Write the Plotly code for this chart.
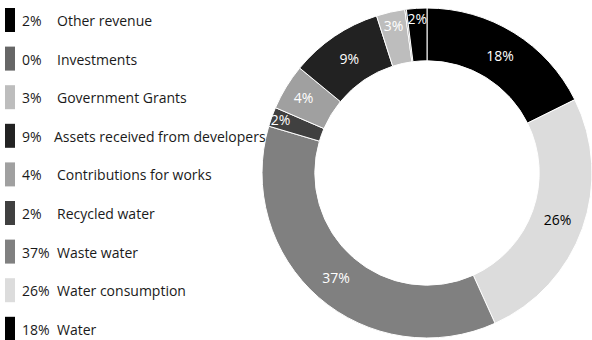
import plotly.graph_objects as go

# Slice order clockwise from 12 o'clock
categories = ["Water", "Water consumption", "Waste water", "Recycled water",
              "Contributions for works", "Assets received from developers",
              "Government Grants", "Investments", "Other revenue"]
values = [17.7, 25.6, 36.4, 1.9, 4.5, 9.1, 2.8, 0.15, 2.0]
pct_labels = ["18%", "26%", "37%", "2%", "4%", "9%", "3%", "0%", "2%"]
colors = ["#000000", "#dcdcdc", "#808080", "#404040", "#a0a0a0",
          "#222222", "#bdbdbd", "#666666", "#000000"]
text_colors = ["white", "black", "white", "white", "white", "white", "white", "white", "white"]

W, H = 592, 340
FONT = "Open Sans"

slice_text = [t if c != "Investments" else "" for t, c in zip(pct_labels, categories)]

fig = go.Figure()
fig.add_trace(go.Pie(
    labels=categories, values=values, text=slice_text, textinfo="text",
    marker=dict(colors=colors, line=dict(color="white", width=1)),
    hole=0.68, sort=False, direction="clockwise", rotation=0,
    textposition="inside", insidetextorientation="horizontal",
    textfont=dict(family=FONT, size=14, color=text_colors),
    domain=dict(x=[262 / W, 1.0], y=[2 / H, 332 / H]),
    showlegend=False, hoverinfo="label+text",
))

# Custom legend (reverse order, top to bottom)
shapes, annotations = [], []
row0, step = 20, 38.6
for i, idx in enumerate(reversed(range(len(categories)))):
    yc = row0 + i * step
    shapes.append(dict(type="rect", xref="paper", yref="paper",
                       x0=5 / W, x1=15 / W, y0=1 - (yc + 12) / H, y1=1 - (yc - 12) / H,
                       fillcolor=colors[idx], line=dict(width=0)))
    annotations.append(dict(x=20 / W, y=1 - (yc + 0.5) / H, xref="paper", yref="paper",
                            text=pct_labels[idx], showarrow=False, xanchor="left", yanchor="middle",
                            font=dict(family=FONT, size=14, color="#1a1a1a")))
    nx = 52 if categories[idx].startswith("Assets") else 55
    annotations.append(dict(x=nx / W, y=1 - (yc + 0.5) / H, xref="paper", yref="paper",
                            text=categories[idx], showarrow=False, xanchor="left", yanchor="middle",
                            font=dict(family=FONT, size=14, color="#1a1a1a")))

fig.update_layout(
    width=W, height=H, margin=dict(l=0, r=0, t=0, b=0),
    paper_bgcolor="white", plot_bgcolor="white",
    shapes=shapes, annotations=annotations,
    uniformtext=dict(minsize=14, mode="show"),
)
fig.write_html("out.html")
